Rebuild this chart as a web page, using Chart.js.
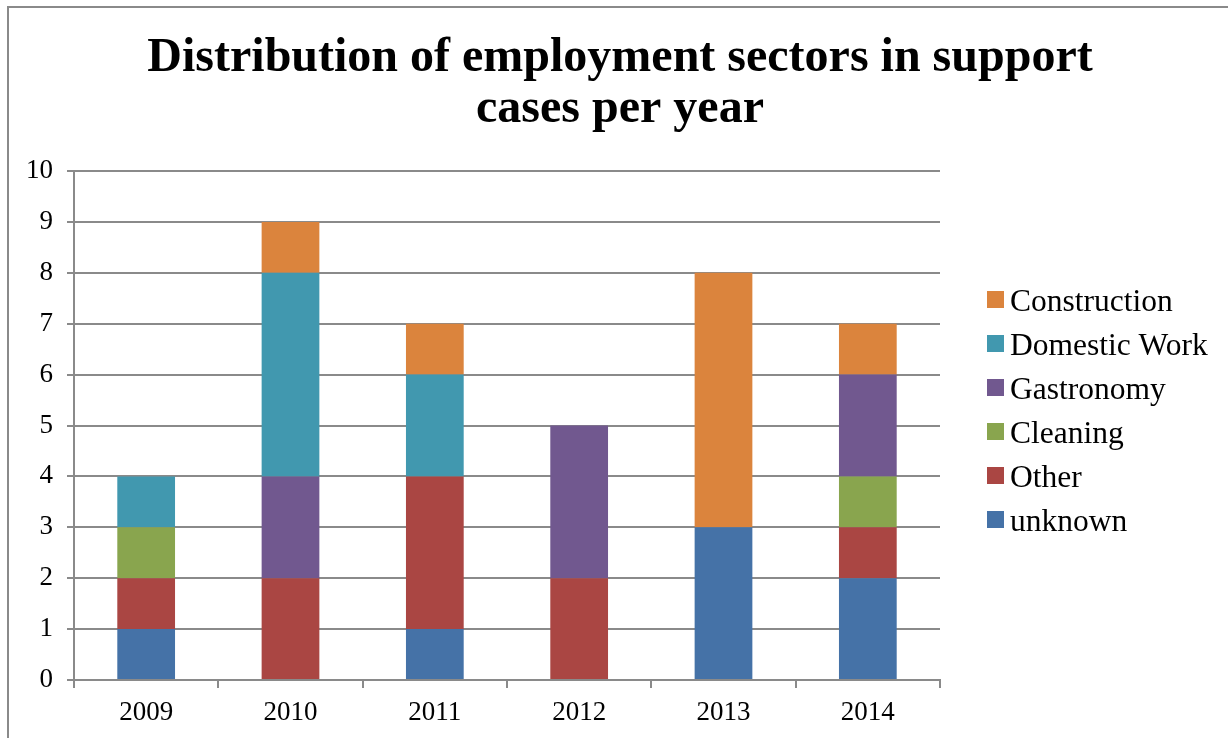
<!DOCTYPE html>
<html>
<head>
<meta charset="utf-8">
<title>Distribution of employment sectors in support cases per year</title>
<script src="https://cdn.jsdelivr.net/npm/chart.js@4/dist/chart.umd.min.js"></script>
<style>
  html, body { margin: 0; padding: 0; background: #fff; overflow: hidden; width: 1228px; height: 738px; }
  #frame { position: absolute; left: 7px; top: 6px; width: 1300px; height: 800px;
           border-left: 2px solid #8a8a8a; border-top: 2px solid #8a8a8a; }
  #chart { position: absolute; left: 10px; top: 9px; }
</style>
</head>
<body>
<div id="frame"></div>
<canvas id="chart" width="1220" height="729"></canvas>
<script>
// Support cases per year, split by employment sector (stacked bottom to top)
const years = ['2009', '2010', '2011', '2012', '2013', '2014'];
const unknown      = [1, 0, 1, 0, 3, 2];
const other        = [1, 2, 3, 2, 0, 1];
const cleaning     = [1, 0, 0, 0, 0, 1];
const gastronomy   = [0, 2, 0, 3, 0, 2];
const domesticWork = [1, 4, 2, 0, 0, 0];
const construction = [0, 1, 1, 0, 5, 1];
const titleLines = ['Distribution of employment sectors in support', 'cases per year'];

const SERIF = "'Liberation Serif', 'Times New Roman', serif";
const GRID = '#8a8a8a';

// Legend drawn to the right of the plot, top entry = top of the stack
const sideLegend = {
  id: 'sideLegend',
  afterDraw(chart, args, opts) {
    const ctx = chart.ctx;
    const area = chart.chartArea;
    const sets = chart.data.datasets.slice().reverse();
    ctx.save();
    ctx.font = opts.fontSize + 'px ' + SERIF;
    ctx.textBaseline = 'alphabetic';
    ctx.textAlign = 'left';
    sets.forEach((ds, i) => {
      const bx = area.right + opts.offsetX;
      const by = opts.top + i * opts.rowGap;
      ctx.fillStyle = ds.backgroundColor;
      ctx.fillRect(bx, by, opts.box, opts.box);
      ctx.fillStyle = '#000';
      ctx.fillText(ds.label, bx + opts.box + opts.textGap, by + opts.baseline);
    });
    ctx.restore();
  }
};

new Chart(document.getElementById('chart'), {
  type: 'bar',
  data: {
    labels: years,
    datasets: [
      { label: 'unknown',       data: unknown,      backgroundColor: '#4572A7' },
      { label: 'Other',         data: other,        backgroundColor: '#AA4643' },
      { label: 'Cleaning',      data: cleaning,     backgroundColor: '#89A54E' },
      { label: 'Gastronomy',    data: gastronomy,   backgroundColor: '#71588F' },
      { label: 'Domestic Work', data: domesticWork, backgroundColor: '#4198AF' },
      { label: 'Construction',  data: construction, backgroundColor: '#DB843D' }
    ]
  },
  options: {
    responsive: false,
    animation: false,
    devicePixelRatio: 1,
    datasets: { bar: { categoryPercentage: 1.0, barPercentage: 0.4, borderWidth: 0 } },
    layout: { padding: 0 },
    plugins: {
      legend: { display: false },
      tooltip: { enabled: false },
      title: {
        display: true,
        text: titleLines,
        color: '#000',
        font: { family: SERIF, size: 48, weight: 'bold', lineHeight: 1.0625 },
        padding: { top: 24, bottom: 36 }
      },
      sideLegend: { offsetX: 47, top: 282, rowGap: 44, box: 17, textGap: 6, baseline: 20, fontSize: 31.5 }
    },
    scales: {
      x: {
        stacked: true,
        offset: true,
        grid: { offset: true, drawOnChartArea: false, drawTicks: true, tickLength: 8, color: GRID, lineWidth: 2 },
        border: { display: true, color: GRID, width: 2 },
        ticks: { color: '#000', font: { family: SERIF, size: 27 }, padding: 9, maxRotation: 0 },
        afterFit(scale) { scale.height = 58; }
      },
      y: {
        stacked: true,
        min: 0,
        max: 10,
        grid: { color: GRID, lineWidth: 2, drawTicks: true, tickLength: 7 },
        border: { display: true, color: GRID, width: 2 },
        ticks: { stepSize: 1, color: '#000', font: { family: SERIF, size: 27 }, padding: 14 },
        afterFit(scale) { scale.width = 64; }
      },
      // empty band on the right that holds the legend
      legendBand: {
        type: 'linear',
        position: 'right',
        display: true,
        grid: { display: false, drawTicks: false },
        border: { display: false },
        ticks: { display: false },
        afterFit(scale) { scale.width = 290; }
      }
    }
  },
  plugins: [sideLegend]
});
</script>
</body>
</html>
